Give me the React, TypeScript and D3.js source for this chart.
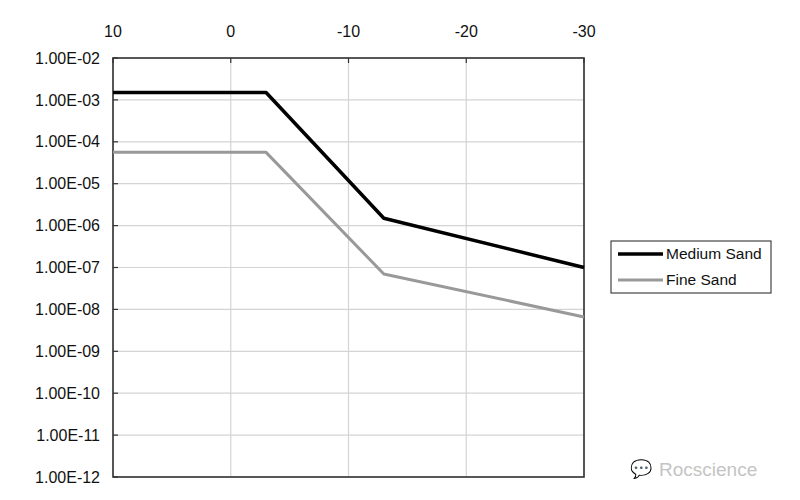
import React from "react";
import * as d3 from "d3";

const xTicks = [10, 0, -10, -20, -30];
const yTicks = [1e-2, 1e-3, 1e-4, 1e-5, 1e-6, 1e-7, 1e-8, 1e-9, 1e-10, 1e-11, 1e-12];
const yTickLabels = ["1.00E-02", "1.00E-03", "1.00E-04", "1.00E-05", "1.00E-06", "1.00E-07", "1.00E-08", "1.00E-09", "1.00E-10", "1.00E-11", "1.00E-12"];

const mediumX = [10, -3, -13, -30];
const mediumY = [1.5e-3, 1.5e-3, 1.5e-6, 1.0e-7];
const fineX = [10, -3, -13, -30];
const fineY = [5.6e-5, 5.6e-5, 7.0e-8, 6.6e-9];

const seriesNames = ["Medium Sand", "Fine Sand"];

export default function App() {
  const W = 800, H = 500;
  const left = 113, right = 584, top = 58, bottom = 477;
  const x = d3.scaleLinear().domain([10, -30]).range([left, right]);
  const y = d3.scaleLog().domain([1e-12, 1e-2]).range([bottom, top]);
  const line = d3.line<[number, number]>().x(d => x(d[0])).y(d => y(d[1]));
  const med = mediumX.map((v, i) => [v, mediumY[i]] as [number, number]);
  const fine = fineX.map((v, i) => [v, fineY[i]] as [number, number]);
  const font = "Liberation Sans, Arial, sans-serif";
  return (
    <svg width={W} height={H} style={{ position: "absolute", left: 0, top: 0, background: "#fff" }} fontFamily={font}>
      <rect x={0} y={0} width={W} height={H} fill="#fff" />
      {/* grid */}
      {yTicks.map((t, i) => (
        <line key={"gy" + i} x1={left} x2={right} y1={y(t)} y2={y(t)} stroke="#d4d4d4" strokeWidth={1.2} />
      ))}
      {xTicks.map((t, i) => (
        <line key={"gx" + i} x1={x(t)} x2={x(t)} y1={top} y2={bottom} stroke="#d4d4d4" strokeWidth={1.2} />
      ))}
      {/* ticks */}
      {yTicks.map((t, i) => (
        <line key={"ty" + i} x1={left} x2={left + 5} y1={y(t)} y2={y(t)} stroke="#333" strokeWidth={1.2} />
      ))}
      {xTicks.map((t, i) => (
        <line key={"tx" + i} x1={x(t)} x2={x(t)} y1={top} y2={top + 5} stroke="#333" strokeWidth={1.2} />
      ))}
      {/* frame */}
      <rect x={left} y={top} width={right - left} height={bottom - top} fill="none" stroke="#333" strokeWidth={1.6} />
      {/* labels */}
      {yTicks.map((t, i) => (
        <text key={"ly" + i} x={100} y={y(t)} dy="0.35em" textAnchor="end" fontSize={16} fill="#111">{yTickLabels[i]}</text>
      ))}
      {xTicks.map((t, i) => (
        <text key={"lx" + i} x={x(t)} y={37} textAnchor="middle" fontSize={16} fill="#111">{t}</text>
      ))}
      {/* series */}
      <path d={line(fine) || ""} fill="none" stroke="#999" strokeWidth={3} strokeLinejoin="round" />
      <path d={line(med) || ""} fill="none" stroke="#000" strokeWidth={3.5} strokeLinejoin="round" />
      {/* legend */}
      <rect x={611} y={241} width={160} height={52} fill="#fff" stroke="#444" strokeWidth={1.2} />
      <line x1={618} x2={663} y1={254} y2={254} stroke="#000" strokeWidth={3.5} />
      <line x1={618} x2={663} y1={280} y2={280} stroke="#999" strokeWidth={3} />
      <text x={666} y={254} dy="0.35em" fontSize={15.5} fill="#111">{seriesNames[0]}</text>
      <text x={666} y={280} dy="0.35em" fontSize={15.5} fill="#111">{seriesNames[1]}</text>
      {/* watermark */}
      <text x={659} y={476} fontSize={19} fill="#c4c4c4">Rocscience</text>
      <text x={630} y={475} fontSize={18} fill="#d0d0d0">💬</text>
    </svg>
  );
}
